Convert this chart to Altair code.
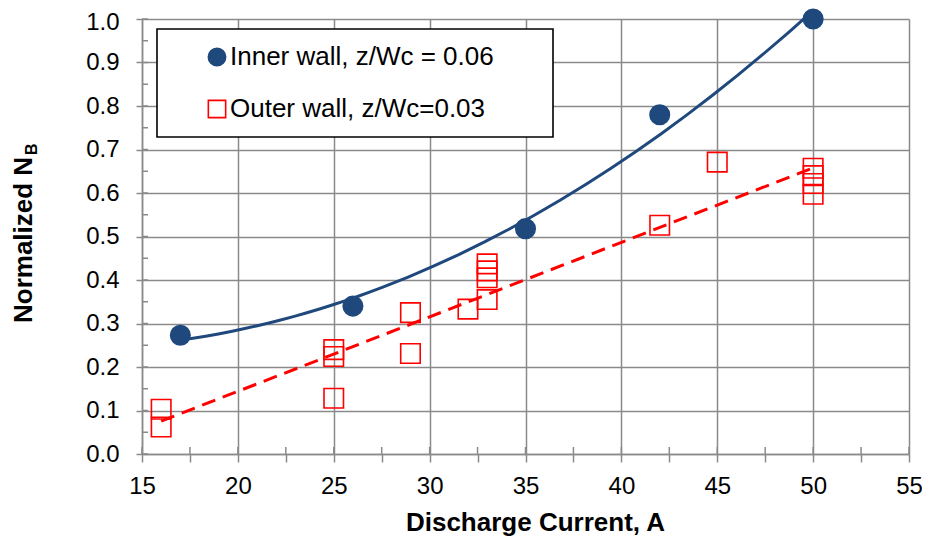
import altair as alt
import pandas as pd

FONT = "Liberation Sans"
BLUE = "#1F497D"
RED = "#FF0000"
GRID = "#8a8a8a"

inner_label = "Inner wall, z/Wc = 0.06"
outer_label = "Outer wall, z/Wc=0.03"

inner_x = [17, 26, 35, 42, 50]
inner_y = [0.273, 0.340, 0.518, 0.780, 1.000]

outer_x = [16, 16, 25, 25, 25, 29, 29, 32, 33, 33, 33, 33, 42, 45, 50, 50, 50, 50]
outer_y = [0.062, 0.103, 0.128, 0.224, 0.240, 0.231, 0.325, 0.333, 0.355,
           0.405, 0.421, 0.437, 0.526, 0.671, 0.597, 0.622, 0.640, 0.657]

x_ticks = [15, 17.5, 20, 22.5, 25, 27.5, 30, 32.5, 35, 37.5, 40, 42.5, 45, 47.5, 50, 52.5, 55]
y_ticks = [0, 0.05, 0.1, 0.15, 0.2, 0.25, 0.3, 0.35, 0.4, 0.45, 0.5, 0.55,
           0.6, 0.65, 0.7, 0.75, 0.8, 0.85, 0.9, 0.95, 1.0]

x_title = "Discharge Current, A"
y_title_main = "Normalized N"
y_title_sub = "B"

TOP = 11
W, H = 767, 435

df = pd.DataFrame({
    "x": inner_x + outer_x,
    "y": inner_y + outer_y,
    "series": [inner_label] * len(inner_x) + [outer_label] * len(outer_x),
})
inner_df = pd.DataFrame({"x": inner_x, "y": inner_y})
outer_df = pd.DataFrame({"x": outer_x, "y": outer_y})
xt_df = pd.DataFrame({"x": x_ticks})
yt_df = pd.DataFrame({"y": y_ticks})

series_domain = [inner_label, outer_label]

x_major = "datum.value % 5 === 0"
y_major = "abs(datum.value * 10 - round(datum.value * 10)) < 0.001"

x_axis = alt.Axis(
    values=x_ticks,
    labelExpr=f"{x_major} ? datum.label : ''",
    grid=True,
    gridColor=GRID,
    gridWidth=1.5,
    gridOpacity={"condition": {"test": x_major, "value": 1}, "value": 0},
    domainColor=GRID, domainWidth=1.5,
    tickColor=GRID, tickWidth=1.5, tickSize=8,
    labelPadding=12, labelFontSize=24, labelFont=FONT, labelColor="black",
    labelFlush=False, labelOverlap=False, labelBound=False,
    title=x_title, titleFont=FONT, titleFontSize=26, titleFontWeight="bold",
    titleColor="black", titleX=393, titleY=76, titleBaseline="alphabetic",
    titleAlign="center",
)

y_axis = alt.Axis(
    values=y_ticks,
    labelExpr=f"{y_major} ? format(datum.value, '.1f') : ''",
    labelOffset={"condition": {"test": "datum.value >= 0.99", "value": 3}, "value": 0},
    grid=True,
    gridColor=GRID,
    gridWidth=1.5,
    gridOpacity={"condition": {"test": y_major, "value": 1}, "value": 0},
    domainColor=GRID, domainWidth=1.5,
    tickColor=GRID, tickWidth=1.5, tickSize=6,
    labelPadding=17, labelFontSize=24, labelFont=FONT, labelColor="black",
    labelFlush=False, labelOverlap=False, labelBound=False,
    title="",
)

legend = alt.Legend(
    orient="none", legendX=15, legendY=29 - 8 - TOP,
    title=" ", titleOrient="right", titlePadding=44, titleFontSize=10,
    padding=15, strokeColor="black", fillColor="white", cornerRadius=0,
    labelFontSize=26, labelFont=FONT, labelColor="black", labelLimit=600,
    symbolOffset=32, labelOffset=0, rowPadding=26, symbolSize=300,
    symbolStrokeWidth=1.6,
)

xs = alt.Scale(domain=[15, 55], nice=False, zero=False)
ys = alt.Scale(domain=[0, 1], nice=False, zero=False)

# inner half of the "cross" tick marks (outer half comes from the axes)
x_inner_ticks = alt.Chart(xt_df).mark_rule(color=GRID, strokeWidth=1.5).encode(
    x=alt.X("x:Q", scale=xs), y=alt.value(H - 7), y2=alt.value(H)
)
y_inner_ticks = alt.Chart(yt_df).mark_rule(color=GRID, strokeWidth=1.5).encode(
    y=alt.Y("y:Q", scale=ys), x=alt.value(0), x2=alt.value(6)
)

points = alt.Chart(df).mark_point(size=380, opacity=1, strokeWidth=1.6).encode(
    x=alt.X("x:Q", scale=xs, axis=x_axis),
    y=alt.Y("y:Q", scale=ys, axis=y_axis),
    shape=alt.Shape("series:N", scale=alt.Scale(domain=series_domain, range=["circle", "square"]), legend=legend),
    stroke=alt.Stroke("series:N", scale=alt.Scale(domain=series_domain, range=[BLUE, RED]), legend=legend),
    fill=alt.Fill("series:N", scale=alt.Scale(domain=series_domain, range=[BLUE, "transparent"]), legend=legend),
)

inner_line = alt.Chart(inner_df).transform_regression(
    "x", "y", method="poly", order=2, extent=[17, 50]
).mark_line(color=BLUE, strokeWidth=3).encode(
    x=alt.X("x:Q", scale=xs), y=alt.Y("y:Q", scale=ys)
)

outer_line = alt.Chart(outer_df).transform_regression(
    "x", "y", method="linear", extent=[16, 50]
).mark_line(color=RED, strokeWidth=3, strokeDash=[14, 8]).encode(
    x=alt.X("x:Q", scale=xs), y=alt.Y("y:Q", scale=ys)
)

ytitle = alt.Chart(pd.DataFrame({"t": [y_title_main]})).mark_text(
    angle=270, align="left", baseline="alphabetic", fontSize=26,
    fontWeight="bold", font=FONT, color="black"
).encode(x=alt.value(-110), y=alt.value(323 - 8 - TOP), text="t:N")

ysub = alt.Chart(pd.DataFrame({"t": [y_title_sub]})).mark_text(
    angle=270, align="left", baseline="alphabetic", fontSize=16,
    fontWeight="bold", font=FONT, color="black"
).encode(x=alt.value(-105), y=alt.value(155 - 8 - TOP), text="t:N")

chart = alt.layer(
    points, x_inner_ticks, y_inner_ticks, inner_line, outer_line, ytitle, ysub
).properties(
    width=W, height=H,
    autosize=alt.AutoSizeParams(type="none"),
    padding={"left": 134, "top": TOP, "right": 13, "bottom": 82},
    background="white",
).configure_view(strokeWidth=0).configure_legend(strokeWidth=1.6)

chart.save("out.html", embed_options={"renderer": "svg", "actions": False})
